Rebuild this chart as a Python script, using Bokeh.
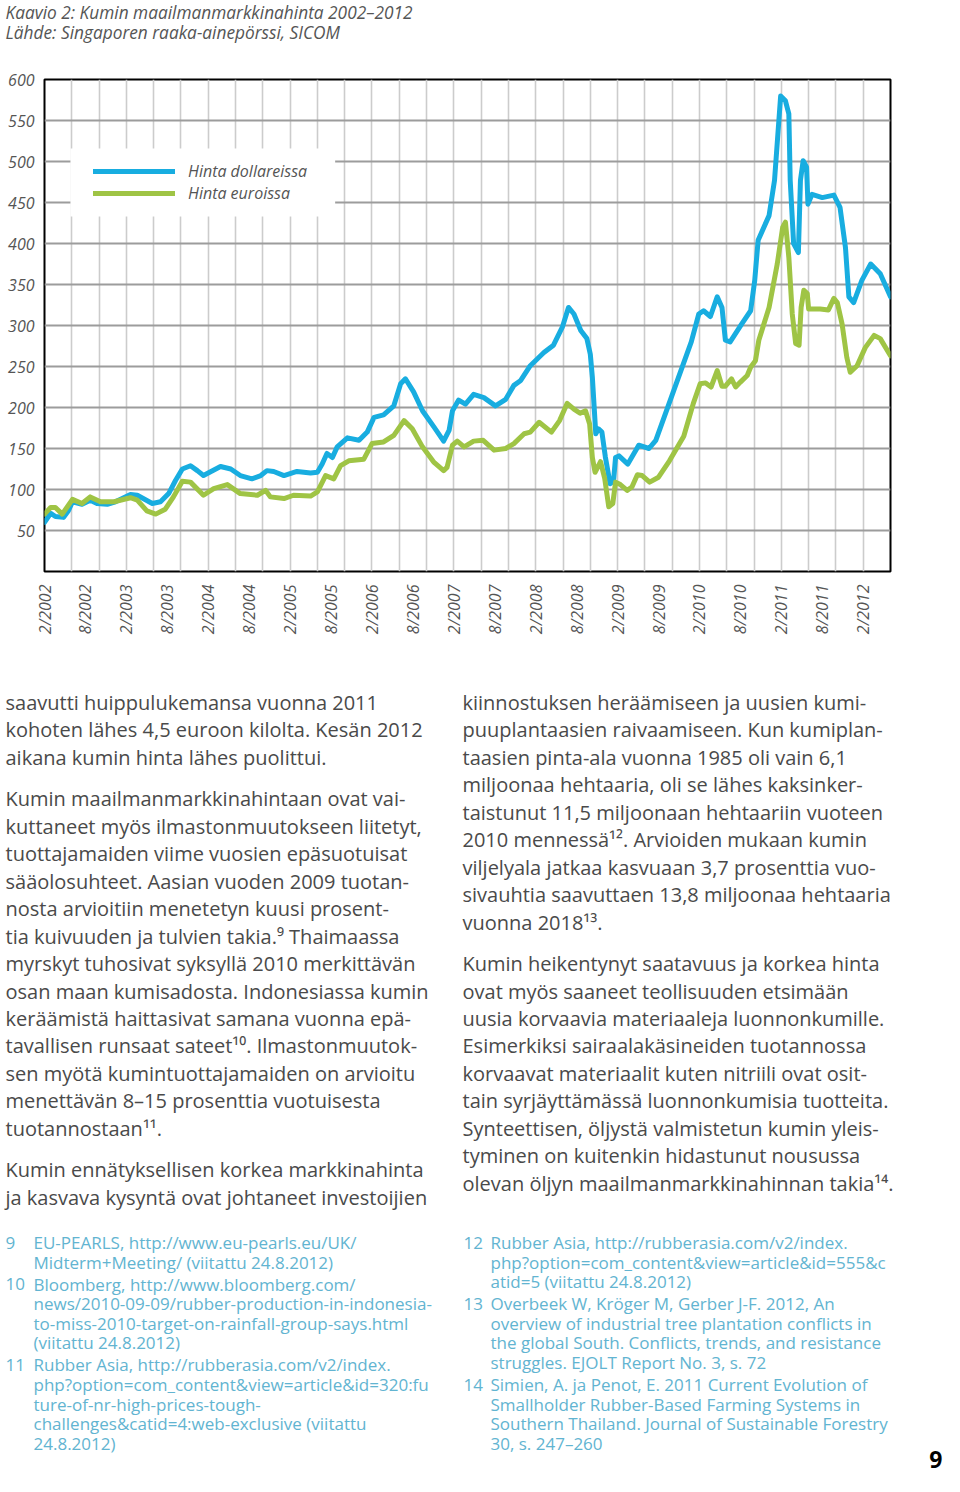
import math
from bokeh.plotting import figure
from bokeh.models import Range1d, FixedTicker, Legend, LegendItem, BoxAnnotation
from bokeh.layouts import column
from bokeh.embed import file_html
from bokeh.resources import INLINE
from bokeh.core.properties import value

# ---------------- data (months counted from 2/2002) ----------------
usd_month = [0, 0.9, 1.6, 2.8, 3.5, 4.1, 5.5, 6.7, 7.7, 9.2,
             10.4, 12.6, 13.6, 15.8, 17.0, 18.2, 19.2, 20.2, 21.4, 22.4,
             23.3, 25.8, 27.3, 28.7, 30.4, 31.7, 32.6, 33.6, 35.1, 37.0,
             39.0, 40.0, 40.7, 41.4, 42.2, 42.9, 44.4, 46.1, 47.3, 48.3,
             49.7, 51.2, 52.2, 52.9, 54.1, 55.4, 57.1, 58.5, 59.3, 59.8,
             60.7, 61.7, 62.9, 64.4, 66.1, 67.6, 68.8, 69.8, 71.2, 73.2,
             74.6, 75.9, 76.8, 77.6, 78.6, 79.5, 80.0, 80.3, 80.8, 81.2,
             81.7, 82.2, 82.9, 83.4, 83.7, 84.2, 85.5, 87.1, 88.6, 89.6,
             92.2, 94.8, 95.9, 96.6, 97.6, 98.6, 99.3, 99.8, 100.5, 102.2,
             103.5, 104.1, 104.6, 106.2, 107.0, 107.9, 108.6, 109.1, 109.3, 109.8,
             110.5, 110.8, 111.2, 111.7, 111.9, 112.5, 114.0, 115.7, 116.6, 117.4,
             117.9, 118.6, 119.8, 121.1, 122.5, 124.0]
usd_price = [60, 71, 67, 66, 74, 85, 82, 87, 83, 82,
             85, 94, 93, 83, 85, 95, 111, 125, 129, 123,
             117, 128, 125, 117, 113, 117, 123, 122, 117, 122,
             120, 121, 131, 144, 139, 152, 163, 160, 170, 188,
             191, 202, 229, 235, 219, 196, 176, 159, 172, 196,
             209, 204, 216, 212, 202, 210, 227, 233, 251, 267,
             276, 298, 322, 314, 294, 284, 265, 237, 168, 174,
             170, 140, 107, 110, 139, 141, 131, 154, 150, 160,
             220, 280, 314, 318, 311, 335, 322, 282, 280, 302,
             318, 355, 404, 434, 477, 580, 574, 558, 477, 400,
             389, 477, 501, 493, 448, 460, 456, 459, 444, 395,
             335, 328, 355, 375, 363, 335]

eur_month = [0, 0.9, 1.6, 2.6, 4.1, 5.5, 6.7, 8.2, 10.2, 12.6,
             13.6, 15.0, 16.3, 17.7, 18.9, 20.2, 21.4, 23.3, 24.8, 26.8,
             28.7, 31.2, 32.4, 33.1, 35.1, 36.5, 39.0, 40.0, 41.2, 42.4,
             43.4, 44.6, 46.8, 48.0, 49.7, 51.2, 52.7, 53.9, 55.4, 57.1,
             58.5, 59.0, 59.8, 60.5, 61.5, 62.9, 64.3, 65.9, 67.6, 68.8,
             70.3, 71.2, 72.5, 74.3, 75.5, 76.6, 77.6, 78.5, 79.3, 79.9,
             80.3, 80.7, 81.5, 82.1, 82.7, 83.3, 83.7, 84.4, 85.4, 86.1,
             86.9, 87.6, 88.7, 90.0, 91.6, 93.7, 95.1, 96.1, 96.9, 97.7,
             98.6, 99.3, 99.8, 100.7, 101.3, 102.0, 103.0, 103.5, 104.2, 104.7,
             106.2, 107.4, 108.2, 108.6, 109.1, 109.6, 110.1, 110.6, 110.9, 111.3,
             111.8, 112.0, 113.7, 114.9, 115.7, 116.2, 116.9, 117.6, 118.1, 119.1,
             120.3, 121.6, 122.5, 124.0]
eur_price = [70, 78, 78, 70, 88, 83, 91, 85, 85, 90,
             87, 74, 70, 76, 91, 110, 109, 93, 101, 106,
             95, 93, 99, 91, 89, 93, 92, 97, 117, 113,
             129, 135, 137, 156, 158, 166, 184, 174, 152, 133,
             123, 127, 154, 159, 152, 159, 160, 148, 150, 156,
             168, 170, 182, 170, 184, 205, 198, 193, 196, 180,
             139, 121, 134, 114, 79, 83, 109, 106, 99, 103,
             118, 117, 109, 115, 135, 165, 205, 229, 230, 225,
             245, 226, 226, 235, 225, 231, 239, 249, 257, 282,
             322, 375, 420, 426, 383, 314, 278, 276, 322, 343,
             339, 320, 320, 319, 333, 328, 302, 261, 243, 251,
             273, 288, 284, 263]

tick_months = list(range(0, 121, 6))
tick_labels = ["2/2002", "8/2002", "2/2003", "8/2003", "2/2004", "8/2004",
               "2/2005", "8/2005", "2/2006", "8/2006", "2/2007", "8/2007",
               "2/2008", "8/2008", "2/2009", "8/2009", "2/2010", "8/2010",
               "2/2011", "8/2011", "2/2012"]
grid_months = list(range(0, 125, 4))
y_ticks = [50, 100, 150, 200, 250, 300, 350, 400, 450, 500, 550, 600]

series_names = ["Hinta dollareissa", "Hinta euroissa"]

title_lines = ["Kaavio 2: Kumin maailmanmarkkinahinta 2002\u20132012",
               "L\u00e4hde: Singaporen raaka-ainep\u00f6rssi, SICOM"]

left_paras = [
    ["saavutti huippulukemansa vuonna 2011",
     "kohoten l\u00e4hes 4,5 euroon kilolta. Kes\u00e4n 2012",
     "aikana kumin hinta l\u00e4hes puolittui."],
    ["Kumin maailmanmarkkinahintaan ovat vai-",
     "kuttaneet my\u00f6s ilmastonmuutokseen liitetyt,",
     "tuottajamaiden viime vuosien ep\u00e4suotuisat",
     "s\u00e4\u00e4olosuhteet. Aasian vuoden 2009 tuotan-",
     "nosta arvioitiin menetetyn kuusi prosent-",
     "tia kuivuuden ja tulvien takia.\u2079 Thaimaassa",
     "myrskyt tuhosivat syksyll\u00e4 2010 merkitt\u00e4v\u00e4n",
     "osan maan kumisadosta. Indonesiassa kumin",
     "ker\u00e4\u00e4mist\u00e4 haittasivat samana vuonna ep\u00e4-",
     "tavallisen runsaat sateet\u00b9\u2070. Ilmastonmuutok-",
     "sen my\u00f6t\u00e4 kumintuottajamaiden on arvioitu",
     "menett\u00e4v\u00e4n 8\u201315 prosenttia vuotuisesta",
     "tuotannostaan\u00b9\u00b9."],
    ["Kumin enn\u00e4tyksellisen korkea markkinahinta",
     "ja kasvava kysynt\u00e4 ovat johtaneet investoijien"],
]
right_paras = [
    ["kiinnostuksen her\u00e4\u00e4miseen ja uusien kumi-",
     "puuplantaasien raivaamiseen. Kun kumiplan-",
     "taasien pinta-ala vuonna 1985 oli vain 6,1",
     "miljoonaa hehtaaria, oli se l\u00e4hes kaksinker-",
     "taistunut 11,5 miljoonaan hehtaariin vuoteen",
     "2010 menness\u00e4\u00b9\u00b2. Arvioiden mukaan kumin",
     "viljelyala jatkaa kasvuaan 3,7 prosenttia vuo-",
     "sivauhtia saavuttaen 13,8 miljoonaa hehtaaria",
     "vuonna 2018\u00b9\u00b3."],
    ["Kumin heikentynyt saatavuus ja korkea hinta",
     "ovat my\u00f6s saaneet teollisuuden etsim\u00e4\u00e4n",
     "uusia korvaavia materiaaleja luonnonkumille.",
     "Esimerkiksi sairaalak\u00e4sineiden tuotannossa",
     "korvaavat materiaalit kuten nitriili ovat osit-",
     "tain syrj\u00e4ytt\u00e4m\u00e4ss\u00e4 luonnonkumisia tuotteita.",
     "Synteettisen, \u00f6ljyst\u00e4 valmistetun kumin yleis-",
     "tyminen on kuitenkin hidastunut nousussa",
     "olevan \u00f6ljyn maailmanmarkkinahinnan takia\u00b9\u2074."],
]

left_notes = [
    ("9", ["EU-PEARLS, http://www.eu-pearls.eu/UK/",
           "Midterm+Meeting/ (viitattu 24.8.2012)"]),
    ("10", ["Bloomberg, http://www.bloomberg.com/",
            "news/2010-09-09/rubber-production-in-indonesia-",
            "to-miss-2010-target-on-rainfall-group-says.html",
            "(viitattu 24.8.2012)"]),
    ("11", ["Rubber Asia, http://rubberasia.com/v2/index.",
            "php?option=com_content&view=article&id=320:fu",
            "ture-of-nr-high-prices-tough-",
            "challenges&catid=4:web-exclusive (viitattu",
            "24.8.2012)"]),
]
right_notes = [
    ("12", ["Rubber Asia, http://rubberasia.com/v2/index.",
            "php?option=com_content&view=article&id=555&c",
            "atid=5 (viitattu 24.8.2012)"]),
    ("13", ["Overbeek W, Kr\u00f6ger M, Gerber J-F. 2012, An",
            "overview of industrial tree plantation conflicts in",
            "the global South. Conflicts, trends, and resistance",
            "struggles. EJOLT Report No. 3, s. 72"]),
    ("14", ["Simien, A. ja Penot, E. 2011 Current Evolution of",
            "Smallholder Rubber-Based Farming Systems in",
            "Southern Thailand. Journal of Sustainable Forestry",
            "30, s. 247\u2013260"]),
]
page_number = "9"

# ---------------- styles ----------------
FONT = "Open Sans"
BLUE = "#18ade0"
GREEN = "#9fc445"
GREY_TXT = "#555555"
BODY_TXT = "#4a4a4a"
NOTE_TXT = "#62b4d1"
W = 944


def no_align(f):
    try:
        f.frame_align = False
    except AttributeError:
        pass


# ---------------- title (page y 0..60) ----------------
tf = figure(width=W, height=60, x_range=Range1d(0, W), y_range=Range1d(60, 0),
            x_axis_type=None, y_axis_type=None, output_backend="svg",
            toolbar_location=None, min_border=0)
tf.grid.visible = False
tf.outline_line_color = None
tf.text(x=[5, 5], y=[12, 32], text=title_lines, text_font=value(FONT),
        text_font_size="17.3px", text_font_style="italic", text_color=GREY_TXT,
        text_baseline="alphabetic")

# ---------------- chart (page y 60..660) ----------------
p = figure(width=W, height=600, x_range=Range1d(0, 124), y_range=Range1d(0, 600),
           output_backend="svg", toolbar_location=None,
           min_border_left=44, min_border_right=54, min_border_top=19, min_border_bottom=89)
p.outline_line_color = "black"
p.outline_line_width = 2
p.xaxis.ticker = FixedTicker(ticks=tick_months)
p.xaxis.major_label_overrides = {m: lab for m, lab in zip(tick_months, tick_labels)}
p.xaxis.major_label_orientation = math.pi / 2
p.yaxis.ticker = FixedTicker(ticks=y_ticks)
p.xgrid.ticker = FixedTicker(ticks=grid_months)
p.ygrid.ticker = FixedTicker(ticks=y_ticks)
p.xgrid.grid_line_color = "#cccccc"
p.xgrid.grid_line_width = 1.6
p.ygrid.grid_line_color = "#9c9c9c"
p.ygrid.grid_line_width = 1.8
for ax in (p.xaxis, p.yaxis):
    ax.axis_line_color = None
    ax.major_tick_line_color = None
    ax.minor_tick_line_color = None
    ax.major_tick_out = 0
    ax.major_tick_in = 0
    ax.minor_tick_out = 0
    ax.minor_tick_in = 0
    ax.major_label_text_font = FONT
    ax.major_label_text_font_style = "italic"
    ax.major_label_text_font_size = "16px"
    ax.major_label_text_color = GREY_TXT
p.xaxis.major_label_standoff = 13
p.yaxis.major_label_standoff = 10

r_usd = p.line(usd_month, usd_price, line_color=BLUE, line_width=5,
               line_join="round", line_cap="round")
r_eur = p.line(eur_month, eur_price, line_color=GREEN, line_width=5,
               line_join="round", line_cap="round")

p.add_layout(BoxAnnotation(left=3.8, right=42.6, bottom=433, top=516,
                           fill_color="white", fill_alpha=1, line_color=None))
legend = Legend(items=[LegendItem(label=series_names[0], renderers=[r_usd]),
                       LegendItem(label=series_names[1], renderers=[r_eur])],
                location=(49, 367), padding=12, spacing=0, margin=0,
                glyph_width=82, glyph_height=20, label_height=20, label_standoff=13,
                background_fill_alpha=0, border_line_color=None,
                label_text_font=FONT, label_text_font_style="italic",
                label_text_font_size="16px", label_text_color=GREY_TXT)
p.add_layout(legend)

# ---------------- text page (page y 660..1476) ----------------
txt = figure(width=W, height=816, x_range=Range1d(0, W), y_range=Range1d(1476, 660),
             x_axis_type=None, y_axis_type=None, output_backend="svg",
             toolbar_location=None, min_border=0)
txt.grid.visible = False
txt.outline_line_color = None

STEP = 27.45
PARA = 14.0


def body_column(paras, x0, first_base):
    xs, ys, ts = [], [], []
    b = first_base
    for i, para in enumerate(paras):
        if i > 0:
            b += PARA
        for line in para:
            xs.append(x0)
            ys.append(b)
            ts.append(line)
            b += STEP
    return xs, ys, ts


for paras, x0 in ((left_paras, 5), (right_paras, 462)):
    xs, ys, ts = body_column(paras, x0, 702)
    txt.text(x=xs, y=ys, text=ts, text_font=value(FONT), text_font_size="20px",
             text_color=BODY_TXT, text_baseline="alphabetic")

NSTEP = 19.6
NGAP = 2.4


def notes_column(notes, xnum, xtxt, first_base):
    nx, ny, nt, lx, ly, lt = [], [], [], [], [], []
    b = first_base
    for i, (num, lines) in enumerate(notes):
        if i > 0:
            b += NGAP
        nx.append(xnum)
        ny.append(b)
        nt.append(num)
        for line in lines:
            lx.append(xtxt)
            ly.append(b)
            lt.append(line)
            b += NSTEP
    return nx, ny, nt, lx, ly, lt


for notes, xn, xt in ((left_notes, 5, 33), (right_notes, 463, 490)):
    nx, ny, nt, lx, ly, lt = notes_column(notes, xn, xt, 1242)
    txt.text(x=nx, y=ny, text=nt, text_font=value(FONT), text_font_size="17px",
             text_color=NOTE_TXT, text_baseline="alphabetic")
    txt.text(x=lx, y=ly, text=lt, text_font=value(FONT), text_font_size="17px",
             text_color=NOTE_TXT, text_baseline="alphabetic")

txt.text(x=[942], y=[1459], text=[page_number], text_font=value(FONT), text_font_size="23px",
         text_font_style="bold", text_color="black", text_align="right", text_baseline="alphabetic")

for f in (tf, p, txt):
    no_align(f)

layout = column(tf, p, txt, spacing=0)
open("out.html", "w").write(file_html(layout, INLINE))
